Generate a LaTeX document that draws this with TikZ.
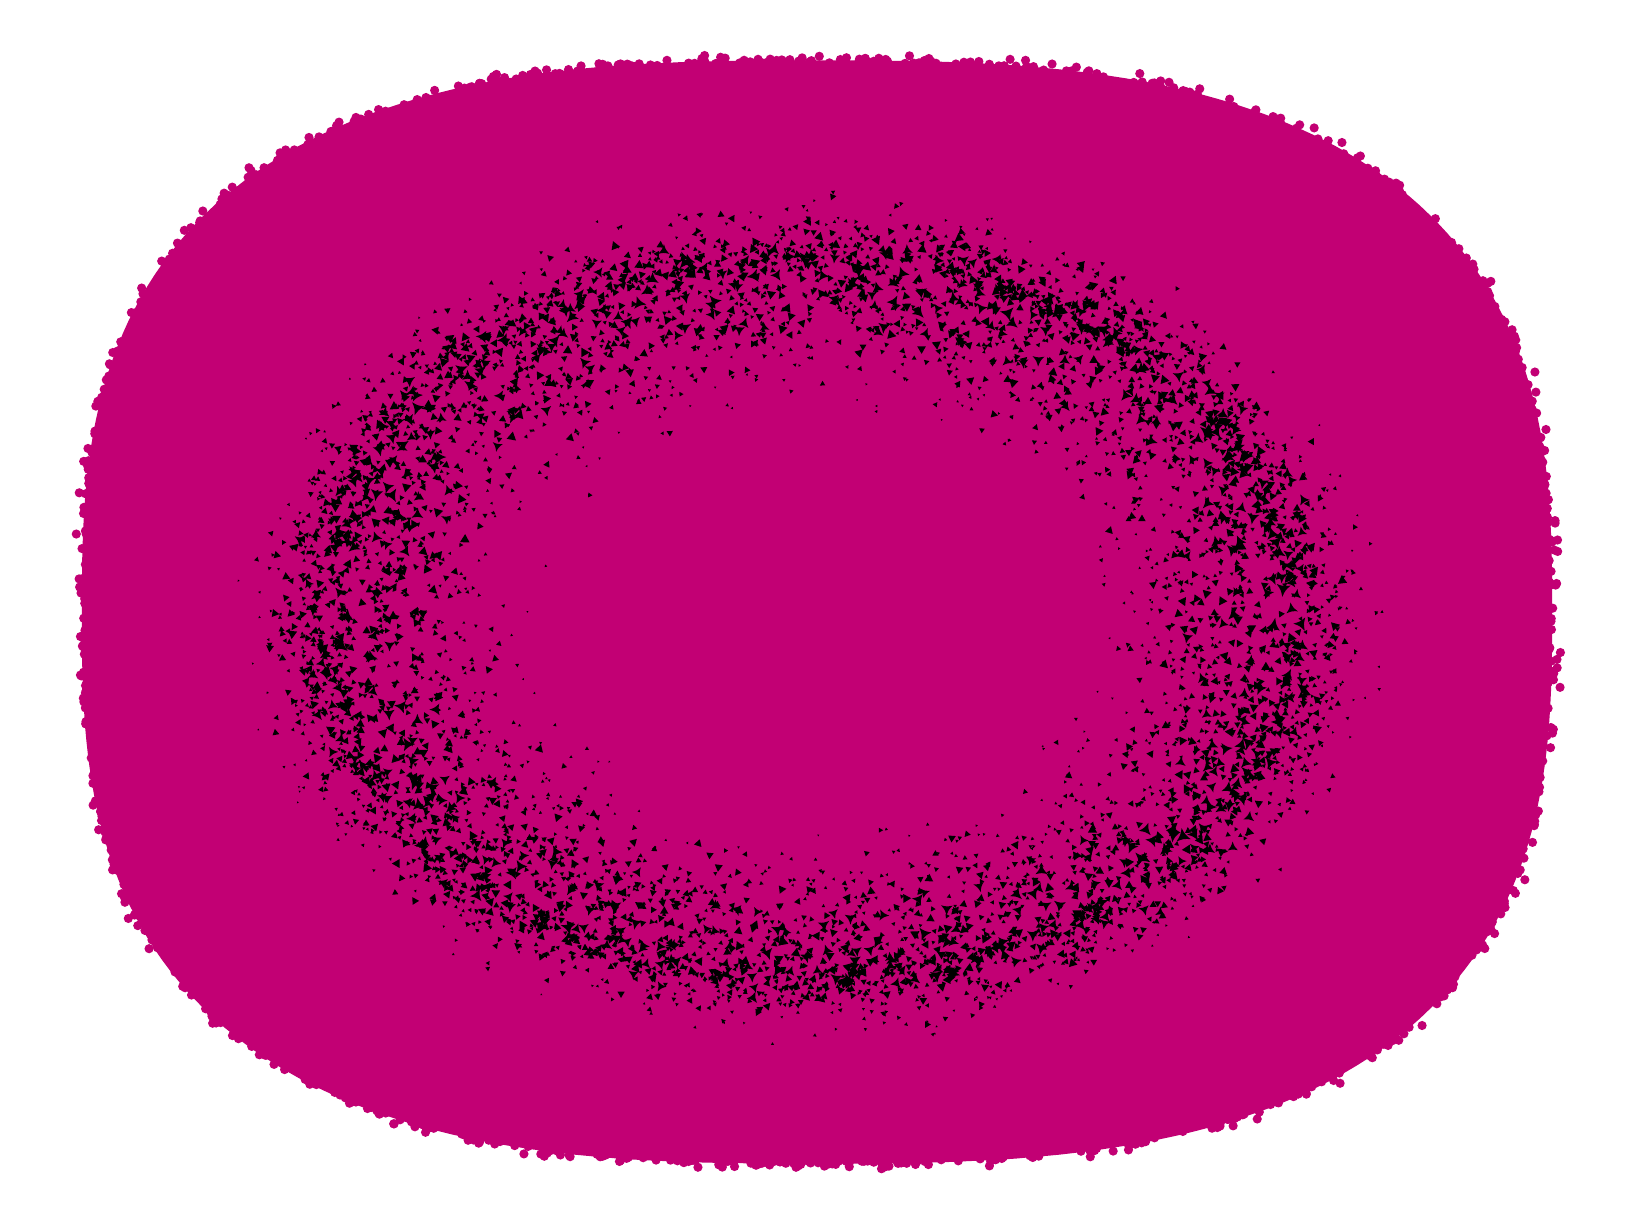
\documentclass[tikz,border=0pt]{standalone}
\definecolor{mag}{RGB}{194,0,116}
\tikzset{declare function={sr(\t)=1/pow(pow(abs(cos(\t))+0.001,2.8)+pow(abs(1.3333*sin(\t))+0.001,2.8),1/2.8);}}
\begin{document}
\begin{tikzpicture}[x=1pt,y=1pt]
\useasboundingbox (0,0) rectangle (1632,1224);
\fill[white] (0,0) rectangle (1632,1224);
\pgfmathsetseed{11}
% main body
\fill[mag] plot[domain=0:359,samples=360] ({817+736*cos(\x)*sr(\x)},{612+736*sin(\x)*sr(\x)}) -- cycle;
% rough edge
\foreach \i in {1,...,700}{
  \pgfmathsetmacro\t{360*rnd}
  \pgfmathsetmacro\f{0.99+0.018*rnd*rnd}
  \fill[mag] ({817+740*\f*cos(\t)*sr(\t)},{612+740*\f*sin(\t)*sr(\t)}) circle (4.6);
}
% ring of gaps
\foreach \i in {1,...,6000}{
  \pgfmathsetmacro\t{360*rnd}
  \pgfmathsetmacro\g{rnd+rnd+rnd-1.5}
  \pgfmathsetmacro\r{1+\g*ifthenelse(\g>0,0.16,0.3)}
  \pgfmathsetmacro\px{812+472*\r*cos(\t)}
  \pgfmathsetmacro\py{607+352*\r*sin(\t)}
  \pgfmathsetmacro\L{(2.4+6.5*rnd*rnd)*(1-0.4*abs(\g))}
  \pgfmathsetmacro\ph{120*rnd}
  \fill[black,shift={(\px,\py)},rotate=\ph] (0:\L) .. controls (60:0.32*\L) .. (120:\L)
     .. controls (180:0.32*\L) .. (240:\L) .. controls (300:0.32*\L) .. (0:\L) -- cycle;
}
\end{tikzpicture}
\end{document}
